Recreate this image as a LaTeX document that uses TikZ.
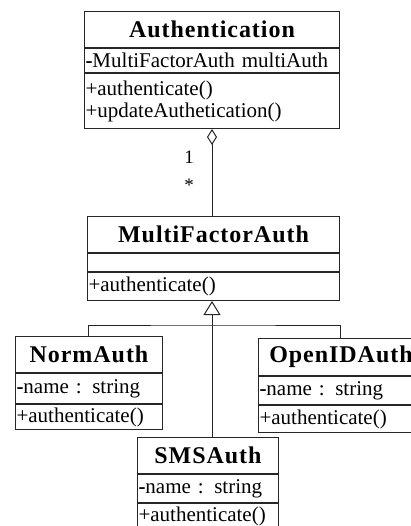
\documentclass[tikz,border=0pt]{standalone}
\usepackage{fontspec}
\setmainfont{Liberation Serif}
\newfontfamily\ttlfamily[LetterSpace=4]{Liberation Serif}
\newfontfamily\txtfamily{Liberation Serif}
\usetikzlibrary{arrows.meta,calc}

\tikzset{
  umlline/.style={draw=black!85, line width=1pt},
  ctitle/.style={umlline, anchor=north west, inner sep=0pt,
    font=\ttlfamily\bfseries\fontsize{24}{26}\selectfont},
  cpart/.style={umlline, anchor=north west, inner xsep=1pt, inner ysep=0pt,
    align=left, font=\txtfamily\fontsize{21}{22}\selectfont},
  mult/.style={inner sep=0pt, font=\txtfamily\fontsize{19}{22}\selectfont},
}

\begin{document}
\begin{tikzpicture}[x=1pt, y=-1pt]
\useasboundingbox (0,0) rectangle (411,526);
\clip (0,0) rectangle (411,526);

% Authentication
\node[ctitle, minimum width=255pt, minimum height=36pt] (auth-t) at (84,11) {Authentication};
\node[cpart, text width=253pt, minimum height=24pt] (auth-a) at (auth-t.south west) {\textbf{-}MultiFactorAuth multiAuth};
\node[cpart, text width=253pt, minimum height=55pt] (auth-m) at (auth-a.south west) {+authenticate()\\+updateAuthetication()};

% MultiFactorAuth
\node[ctitle, minimum width=252pt, minimum height=36pt] (mfa-t) at (87,216) {MultiFactorAuth};
\node[cpart, text width=250pt, minimum height=18pt] (mfa-a) at (mfa-t.south west) {};
\node[cpart, text width=250pt, minimum height=28pt] (mfa-m) at (mfa-a.south west) {+authenticate()};

% NormAuth
\node[ctitle, minimum width=147pt, minimum height=36pt] (norm-t) at (15,336) {NormAuth};
\node[cpart, text width=145pt, minimum height=30pt] (norm-a) at (norm-t.south west) {\textbf{-}name : string};
\node[cpart, text width=145pt, minimum height=25pt] (norm-m) at (norm-a.south west) {+authenticate()};

% OpenIDAuth
\node[ctitle, minimum width=165pt, minimum height=37pt] (oid-t) at (258,338) {OpenIDAuth};
\node[cpart, text width=163pt, minimum height=28pt] (oid-a) at (oid-t.south west) {\textbf{-}name : string};
\node[cpart, text width=163pt, minimum height=27pt] (oid-m) at (oid-a.south west) {+authenticate()};

% SMSAuth
\node[ctitle, minimum width=141pt, minimum height=36pt] (sms-t) at (137,437) {SMSAuth};
\node[cpart, text width=139pt, minimum height=28pt] (sms-a) at (sms-t.south west) {\textbf{-}name : string};
\node[cpart, text width=139pt, minimum height=25pt] (sms-m) at (sms-a.south west) {+authenticate()};

% connector guides
\coordinate (hub) at (212,0);
\coordinate (bus) at (212,325);
\coordinate (normJ) at ($(norm-t.north west)+(73,0)$);
\coordinate (oidJ) at ($(oid-t.north west)+(82,0)$);

% aggregation
\draw[umlline, {Diamond[open, length=16pt, width=10pt]}-] (auth-m.south -| hub) -- (mfa-t.north -| hub);
\node[mult] (m-one) at (189,157) {1};
\node[mult] (m-many) at (189,185) {*};

% generalization
\draw[umlline, -{Triangle[open, length=14pt, width=17pt]}] (sms-t.north -| hub) -- (mfa-m.south -| hub);
\draw[umlline] (normJ) |- (bus) -| (oidJ);
\end{tikzpicture}
\end{document}
